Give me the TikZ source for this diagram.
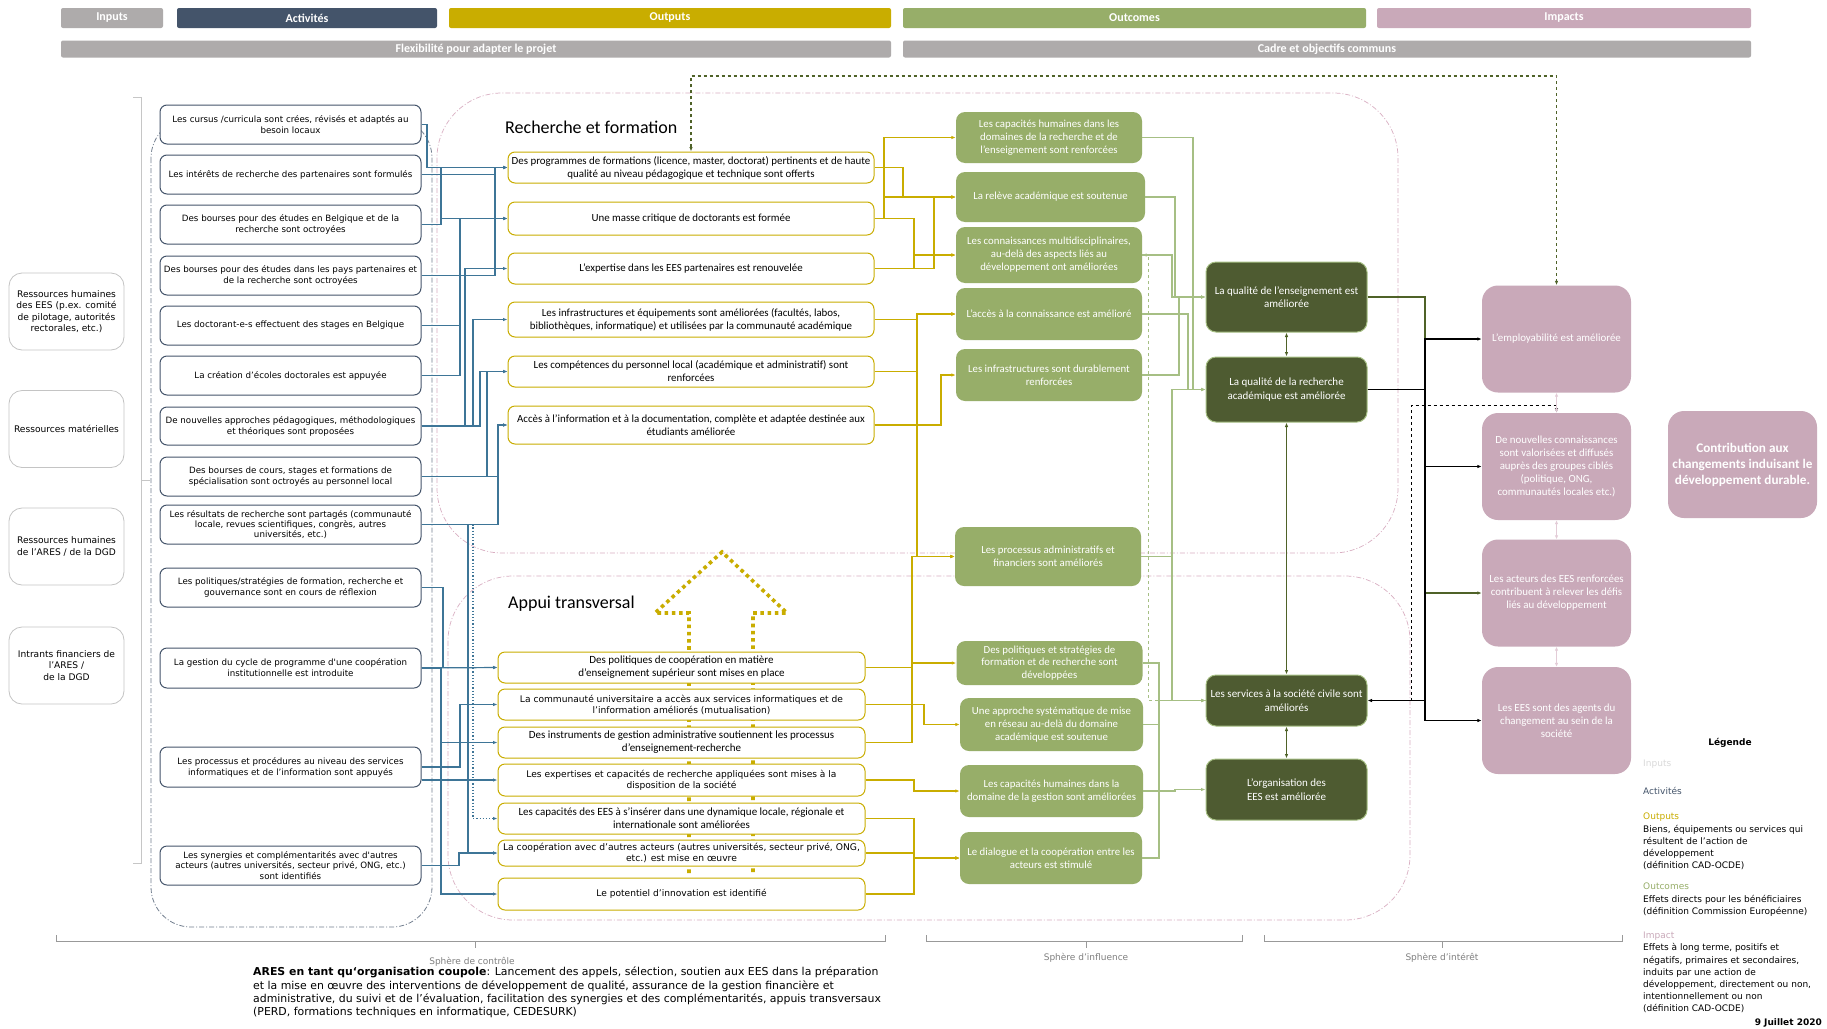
\documentclass[tikz,border=0pt]{standalone}
\usepackage{fontspec}
\setmainfont{Carlito}
\newfontfamily\vfont{DejaVu Sans}
\usetikzlibrary{arrows.meta,calc}
\definecolor{gold}{HTML}{C9AD00}
\definecolor{actc}{HTML}{44546A}
\definecolor{outcol}{HTML}{97AE69}
\definecolor{impc}{HTML}{C9A9B9}
\definecolor{grayh}{HTML}{AEABAB}
\definecolor{darkol}{HTML}{4E5B31}
\definecolor{olive}{HTML}{4F6228}
\definecolor{blu}{HTML}{3E7597}
\definecolor{lgr}{HTML}{A6BF84}
\definecolor{pinkl}{HTML}{D9AFC2}
\definecolor{pinka}{HTML}{E3CCD7}
\definecolor{inpb}{HTML}{C4C4C4}
\begin{document}
\begin{tikzpicture}[x=1pt,y=-1pt,
  tip/.style={-{Latex[length=4.5pt,width=3.5pt]}},
  bl/.style={draw=blu,line width=1.2pt,tip},
  gd/.style={draw=gold,line width=1.2pt,tip},
  lg/.style={draw=lgr,line width=1.2pt,tip},
  hdr/.style={rounded corners=2pt,text=white,inner sep=0pt,font=\bfseries\fontsize{12}{12}\selectfont},
  inp/.style={draw=inpb,line width=0.8pt,rounded corners=13pt,fill=white,align=center,minimum width=115,minimum height=77,inner sep=1pt,font=\vfont\fontsize{9.1}{11.5}\selectfont},
  act/.style={draw=actc,line width=1pt,rounded corners=7pt,fill=white,align=center,minimum width=261,inner sep=1pt,font=\vfont\fontsize{8.7}{11}\selectfont},
  outb/.style={draw=gold,line width=1pt,rounded corners=7pt,fill=white,align=center,minimum width=366,inner sep=1pt,font=\fontsize{10.9}{13}\selectfont},
  apv/.style={outb,minimum width=367,font=\vfont\fontsize{9.1}{11}\selectfont},
  apc/.style={outb,minimum width=367,font=\fontsize{11}{13}\selectfont},
  oc/.style={fill=outcol,rounded corners=9pt,text=white,align=center,minimum width=186,inner sep=1pt,font=\fontsize{10.8}{13}\selectfont},
  dk/.style={fill=darkol,draw=lgr,line width=1pt,rounded corners=10pt,text=white,align=center,minimum width=161,inner sep=1pt,font=\fontsize{11}{13.5}\selectfont},
  im/.style={fill=impc,rounded corners=16pt,text=white,align=center,minimum width=149,minimum height=107,inner sep=1pt,font=\fontsize{10.9}{13}\selectfont},
  ddash/.style={dash pattern=on 5pt off 2pt on 1pt off 2pt},
  brc/.style={draw=gray!80,line width=0.8pt},
  sph/.style={text=gray,font=\vfont\fontsize{9}{10}\selectfont},
  leg/.style={anchor=north west,inner sep=0pt,align=left,font=\vfont\fontsize{9}{12.2}\selectfont}
]
\useasboundingbox (0,0) rectangle (1827,1028);
\fill[white] (0,0) rectangle (1827,1028);

% headers
\node[hdr,fill=grayh,minimum width=102,minimum height=20] (hIn) at (112,18) {Inputs};
\node[hdr,fill=actc,minimum width=260,minimum height=20] (hAc) at (307,18) {Activités};
\node[hdr,fill=gold,minimum width=442,minimum height=20] (hOu) at (670,18) {Outputs};
\node[hdr,fill=outcol,minimum width=463,minimum height=20] (hOc) at (1134.5,18) {Outcomes};
\node[hdr,fill=impc,minimum width=374,minimum height=20] (hIm) at (1564,18) {Impacts};
\node[hdr,fill=grayh,minimum width=830,minimum height=17] (hFl) at (476,49) {Flexibilité pour adapter le projet};
\node[hdr,fill=grayh,minimum width=848,minimum height=17] (hCa) at (1327,49) {Cadre et objectifs communs};

% regions
\draw[actc!75,line width=0.8pt,ddash,rounded corners=40pt] (151,118) rectangle (432,927);
\draw[pinkl,line width=0.7pt,ddash,rounded corners=65pt] (437,93) rectangle (1398,553);
\draw[pinkl,line width=0.7pt,ddash,rounded corners=65pt] (448,576) rectangle (1410,920);
\node[anchor=west,inner sep=0pt,font=\fontsize{18}{20}\selectfont] (tRF) at (505,127) {Recherche et formation};
\node[anchor=west,inner sep=0pt,font=\fontsize{18}{20}\selectfont] (tAT) at (508,604) {Appui transversal};

% input brace
\draw[brc,draw=gray!45] (133,97) -- (141,97) -- (141,863) -- (133,863);
\draw[brc,draw=gray!45] (141,480) -- (150,480);

% big dotted arrow
\draw[gold,line width=3.6pt,dash pattern=on 3.6pt off 3.6pt] (689,873) -- (689,613) -- (655,613) -- (722,552) -- (787,613) -- (753,613) -- (753,873);

% inputs
\node[inp] (in1) at (66.5,311.5) {Ressources humaines\\des EES (p.ex. comité\\de pilotage, autorités\\rectorales, etc.)};
\node[inp] (in2) at (66.5,429) {Ressources matérielles};
\node[inp] (in3) at (66.5,546.5) {Ressources humaines\\de l’ARES / de la DGD};
\node[inp] (in4) at (66.5,665.5) {Intrants financiers de\\l’ARES /\\de la DGD};

% activities
\node[act,minimum height=39] (a1) at (290.5,124.5) {Les cursus /curricula sont crées, révisés et adaptés au\\besoin locaux};
\node[act,minimum height=39] (a2) at (290.5,174.5) {Les intérêts de recherche des partenaires sont formulés};
\node[act,minimum height=39] (a3) at (290.5,224.5) {Des bourses pour des études en Belgique et de la\\recherche sont octroyées};
\node[act,minimum height=39] (a4) at (290.5,275.5) {Des bourses pour des études dans les pays partenaires et\\de la recherche sont octroyées};
\node[act,minimum height=39] (a5) at (290.5,325.5) {Les doctorant-e-s effectuent des stages en Belgique};
\node[act,minimum height=39] (a6) at (290.5,375.5) {La création d’écoles doctorales est appuyée};
\node[act,minimum height=38] (a7) at (290.5,426) {De nouvelles approches pédagogiques, méthodologiques\\et théoriques sont proposées};
\node[act,minimum height=39] (a8) at (290.5,476.5) {Des bourses de cours, stages et formations de\\spécialisation sont octroyés au personnel local};
\node[act,minimum height=39,font=\vfont\fontsize{8.7}{10}\selectfont] (a9) at (290.5,524.5) {Les résultats de recherche sont partagés (communauté\\locale, revues scientifiques, congrès, autres\\universités, etc.)};
\node[act,minimum height=39] (a10) at (290.5,587.5) {Les politiques/stratégies de formation, recherche et\\gouvernance sont en cours de réflexion};
\node[act,minimum height=40] (a11) at (290.5,668) {La gestion du cycle de programme d'une coopération\\institutionnelle est introduite};
\node[act,minimum height=40] (a12) at (290.5,767) {Les processus et procédures au niveau des services\\informatiques et de l’information sont appuyés};
\node[act,minimum height=39,font=\vfont\fontsize{8.7}{10.2}\selectfont] (a13) at (290.5,865.5) {Les synergies et complémentarités avec d'autres\\acteurs (autres universités, secteur privé, ONG, etc.)\\sont identifiés};

% outputs
\node[outb,minimum height=31] (o1) at (691,167.5) {Des programmes de formations (licence, master, doctorat) pertinents et de haute\\qualité au niveau pédagogique et technique sont offerts};
\node[outb,minimum height=33] (o2) at (691,218.5) {Une masse critique de doctorants est formée};
\node[outb,minimum height=31] (o3) at (691,268.5) {L’expertise dans les EES partenaires est renouvelée};
\node[outb,minimum height=35] (o4) at (691,319.5) {Les infrastructures et équipements sont améliorées (facultés, labos,\\bibliothèques, informatique) et utilisées par la communauté académique};
\node[outb,minimum height=31] (o5) at (691,371.5) {Les compétences du personnel local (académique et administratif) sont\\renforcées};
\node[outb,minimum height=38] (o6) at (691,425) {Accès à l’information et à la documentation, complète et adaptée destinée aux\\étudiants améliorée};

% appui
\node[apc,minimum height=31] (p1) at (681.5,667.5) {Des politiques de coopération en matière\\d’enseignement supérieur sont mises en place};
\node[apv,minimum height=31] (p2) at (681.5,704.5) {La communauté universitaire a accès aux services informatiques et de\\l’information améliorés (mutualisation)};
\node[apc,minimum height=31] (p3) at (681.5,742.5) {Des instruments de gestion administrative soutiennent les processus\\d'enseignement-recherche};
\node[apv,minimum height=32] (p4) at (681.5,780) {Les expertises et capacités de recherche appliquées sont mises à la\\disposition de la société};
\node[apc,minimum height=31] (p5) at (681.5,818.5) {Les capacités des EES à s’insérer dans une dynamique locale, régionale et\\internationale sont améliorées};
\node[apv,minimum height=26,font=\vfont\fontsize{9.2}{10.2}\selectfont] (p6) at (681.5,853) {La coopération avec d’autres acteurs (autres universités, secteur privé, ONG,\\etc.) est mise en œuvre};
\node[apv,minimum height=32] (p7) at (681.5,894) {Le potentiel d’innovation est identifié};

% outcomes
\node[oc,minimum height=51] (c1) at (1049,137.5) {Les capacités humaines dans les\\domaines de la recherche et de\\l’enseignement sont renforcées};
\node[oc,minimum height=50,minimum width=189] (c2) at (1050.5,197) {La relève académique est soutenue};
\node[oc,minimum height=56] (c3) at (1049,255) {Les connaissances multidisciplinaires,\\au-delà des aspects liés au\\développement ont améliorées};
\node[oc,minimum height=52] (c4) at (1049,314) {L'accès à la connaissance est amélioré};
\node[oc,minimum height=52] (c5) at (1049,375) {Les infrastructures sont durablement\\renforcées};
\node[oc,minimum height=59] (c6) at (1048,556.5) {Les processus administratifs et\\financiers sont améliorés};
\node[oc,minimum height=44,font=\fontsize{10.8}{12.5}\selectfont] (c7) at (1049.5,663) {Des politiques et stratégies de\\formation et de recherche sont\\développées};
\node[oc,minimum height=53,minimum width=183] (c8) at (1051.5,724.5) {Une approche systématique de mise\\en réseau au-delà du domaine\\académique est soutenue};
\node[oc,minimum height=52,minimum width=183] (c9) at (1051.5,791) {Les capacités humaines dans la\\domaine de la gestion sont améliorées};
\node[oc,minimum height=52,minimum width=182] (c10) at (1051,858) {Le dialogue et la coopération entre les\\acteurs est stimulé};

% dark outcomes
\node[dk,minimum height=70] (d1) at (1286.5,297) {La qualité de l’enseignement est\\améliorée};
\node[dk,minimum height=65] (d2) at (1286.5,389.5) {La qualité de la recherche\\académique est améliorée};
\node[dk,minimum height=51] (d3) at (1286.5,700.5) {Les services à la société civile sont\\améliorés};
\node[dk,minimum height=61] (d4) at (1286.5,789.5) {L’organisation des\\EES est améliorée};

% impacts
\node[im] (i1) at (1556.5,339) {L’employabilité est améliorée};
\node[im] (i2) at (1556.5,466.5) {De nouvelles connaissances\\sont valorisées et diffusés\\auprès des groupes ciblés\\(politique, ONG,\\communautés locales etc.)};
\node[im] (i3) at (1556.5,593) {Les acteurs des EES renforcées\\contribuent à relever les défis\\liés au développement};
\node[im] (i4) at (1556.5,720.5) {Les EES sont des agents du\\changement au sein de la\\société};
\node[im,font=\bfseries\fontsize{13.2}{16}\selectfont] (i5) at (1742.5,464.5) {Contribution aux\\changements induisant le\\développement durable.};

% ---- blue connectors: activities -> outputs
\draw[bl] (a1.east) -| (427,167.5) -- (o1.west);
\draw[bl] (a2.east) -- (495,174.5) |- (o1.west);
\draw[bl] (a3.east) -- (441,224.5) |- (o1.west);
\draw[bl] (a3.east) -- (441,224.5) |- (o2.west);
\draw[bl] (a4.east) -- (495,275.5) |- (o1.west);
\draw[bl] (a5.east) -- (460,325.5) |- (o2.west);
\draw[bl] (a6.east) -- (460,375.5) |- (o2.west);
\draw[bl] (a7.east) -- (465,426) |- (o3.west);
\draw[bl] (a7.east) -- (473,426) |- (o4.west);
\draw[bl] (a7.east) -- (480,426) |- (o5.west);
\draw[bl] (a8.east) -- (487,476.5) |- (o5.west);
\draw[bl] (a8.east) -- (498,476.5) |- (o6.west);
\draw[bl] (a9.east) -- (498,524.5) |- (o6.west);
\draw[bl,dotted,line width=1.1pt] (a9.east) -- (473,524.5) |- (p5.west);
\draw[bl] (a9.east) -- (468,524.5) |- (p6.west);
% activities -> appui
\draw[bl] (a10.east) -- (443,587.5) |- (p1.west);
\draw[bl] (a11.east) -- (p1.west);
\draw[bl] (a11.east) -- (441,668) |- (p3.west);
\draw[bl] (a11.east) -- (441,668) |- (p7.west);
\draw[bl] (a12.east) -- (460,767) |- (p2.west);
\draw[bl] (a12.east |- p4.west) -- (p4.west);
\draw[bl] (a13.east) -- (459,865.5) |- (p6.west);

% ---- gold connectors: outputs -> outcomes
\draw[gd] (o1.east) -- (903,167.5) |- (c2.west);
\draw[gd] (o2.east) -- (884,218.5) |- (c1.west);
\draw[gd] (o2.east) -- (884,218.5) |- (c2.west);
\draw[gd] (o2.east) -- (914,218.5) |- (c3.west);
\draw[gd] (o3.east) -- (914,268.5) |- (c3.west);
\draw[gd] (o3.east) -- (934,268.5) |- (c2.west);
\draw[gd] (o4.east) -- (917,319.5) |- (c4.west);
\draw[gd] (o5.east) -- (917,371.5) |- (c4.west);
\draw[gd] (o6.east) -- (917,425) |- (c4.west);
\draw[gd] (o6.east) -- (917,425) |- (c6.west);
\draw[gd] (o6.east) -- (941,425) |- (c5.west);
% appui -> outcomes
\draw[gd] (p1.east) -- (912,667.5) |- (c6.west);
\draw[gd] (p1.east) -- (912,667.5) |- (c7.west);
\draw[gd] (p3.east) -- (912,742.5) |- (c6.west);
\draw[gd] (p2.east) -- (924,704.5) |- (c8.west);
\draw[gd] (p4.east) -- (914,780) |- (c9.west);
\draw[gd] (p5.east) -- (914,818.5) |- (c10.west);
\draw[gd] (p6.east) -- (914,853) |- (c10.west);
\draw[gd] (p7.east) -- (914,894) |- (c10.west);

% ---- light green: outcomes -> dark outcomes
\draw[lg] (c1.east) -- (1193,137.5) |- (d2.west);
\draw[lg] (c2.east) -- (1175,197) |- (d1.west);
\draw[lg] (c3.east) -- (1172,255) |- (d1.west);
\draw[lg] (c4.east) -- (1188,314) |- (d2.west);
\draw[lg] (c5.east) -- (1179,375) |- (d1.west);
\draw[lg] (c6.east) -- (1172,556.5) |- (d2.west);
\draw[lg] (c6.east) -- (1172,556.5) |- (d3.west);
\draw[lg] (c7.east) -- (1159,663) |- (d3.west);
\draw[lg] (c8.east) -- (1159,724.5) |- (d3.west);
\draw[lg] (c10.east) -- (1159,858) |- (d3.west);
\draw[lg] (c9.east) -- (1175,791) |- (d4.west);
\draw[lg,dashed,line width=0.9pt] (d3.west) -- (1148,700.5) -- (1148,255) -- (c3.east);

% ---- dark links
\draw[olive,line width=1.2pt,{Latex[length=4.5pt,width=3.5pt]}-{Latex[length=4.5pt,width=3.5pt]}] (d1.south) -- (d2.north);
\draw[olive,line width=1.2pt,{Latex[length=4.5pt,width=3.5pt]}-{Latex[length=4.5pt,width=3.5pt]}] (d2.south) -- (d3.north);
\draw[olive,line width=1.2pt,{Latex[length=4.5pt,width=3.5pt]}-{Latex[length=4.5pt,width=3.5pt]}] (d3.south) -- (d4.north);

% ---- dark -> impacts
\draw[olive,line width=1.4pt,tip] (d1.east) -- (1425,297) |- (i3.west);
\draw[black,line width=1.4pt,tip] (d2.east) -- (1425,389.5) |- (i1.west);
\draw[black,line width=1.4pt,tip] (d2.east) -- (1425,389.5) |- (i2.west);
\draw[black,line width=1.4pt,tip] (d2.east) -- (1425,389.5) |- (i4.west);
\draw[black,line width=1.4pt,tip] (1425,700.5) -- (d3.east);
\draw[black,line width=1pt,dashed,tip] (1411,700.5) -- (1411,405) -- (1556.5,405) -- (i2.north);

% pink links between impacts
\draw[pinka,line width=1.4pt,{Latex[length=4pt,width=3.5pt]}-{Latex[length=4pt,width=3.5pt]}] (i1.south) -- (i2.north);
\draw[pinka,line width=1.4pt,{Latex[length=4pt,width=3.5pt]}-{Latex[length=4pt,width=3.5pt]}] (i2.south) -- (i3.north);
\draw[pinka,line width=1.4pt,{Latex[length=4pt,width=3.5pt]}-{Latex[length=4pt,width=3.5pt]}] (i3.south) -- (i4.north);

% top dashed feedback
\draw[olive,line width=1.1pt,dashed,{Latex[length=4.5pt,width=3.5pt]}-{Latex[length=4.5pt,width=3.5pt]}] (o1.north) -- (691,76) -- (1556.5,76) -- (i1.north);

% bottom braces
\draw[brc] (56,935) -- (56,941) -- (885,941) -- (885,935);
\draw[brc] (475,941) -- (475,948);
\node[sph] (s1) at (472,962) {Sphère de contrôle};
\draw[brc] (926,935) -- (926,941) -- (1242,941) -- (1242,935);
\draw[brc] (1086,941) -- (1086,948);
\node[sph] (s2) at (1086,958) {Sphère d’influence};
\draw[brc] (1264,935) -- (1264,941) -- (1622,941) -- (1622,935);
\draw[brc] (1442,941) -- (1442,948);
\node[sph] (s3) at (1442,958) {Sphère d’intérêt};

\node[anchor=north west,inner sep=0pt,align=left,font=\vfont\fontsize{10.9}{13.2}\selectfont] (ares) at (253,967) {\textbf{ARES en tant qu‘organisation coupole}: Lancement des appels, sélection, soutien aux EES dans la préparation\\et la mise en œuvre des interventions de développement de qualité, assurance de la gestion financière et\\administrative, du suivi et de l’évaluation, facilitation des synergies et des complémentarités, appuis transversaux\\(PERD, formations techniques en informatique, CEDESURK)};

% legend
\node[font=\vfont\bfseries\fontsize{9}{10}\selectfont] (lt) at (1730,743) {Légende};
\node[leg] (l1) at (1643,760) {\color{gray!30}Inputs};
\node[leg] (l2) at (1643,787) {\color{actc}Activités};
\node[leg] (l3) at (1643,813) {\color{gold}Outputs\\Biens, équipements ou services qui\\résultent de l’action de\\développement\\(définition CAD-OCDE)};
\node[leg] (l4) at (1643,883) {\color{outcol}Outcomes\\Effets directs pour les bénéficiaires\\(définition Commission Européenne)};
\node[leg] (l5) at (1643,932) {\color{impc}Impact\\Effets à long terme, positifs et\\négatifs, primaires et secondaires,\\induits par une action de\\développement, directement ou non,\\intentionnellement ou non\\(définition CAD-OCDE)};
\node[anchor=east,inner sep=0pt,font=\vfont\bfseries\fontsize{9}{10}\selectfont] (date) at (1822,1023) {9 Juillet 2020};
\end{tikzpicture}
\end{document}
